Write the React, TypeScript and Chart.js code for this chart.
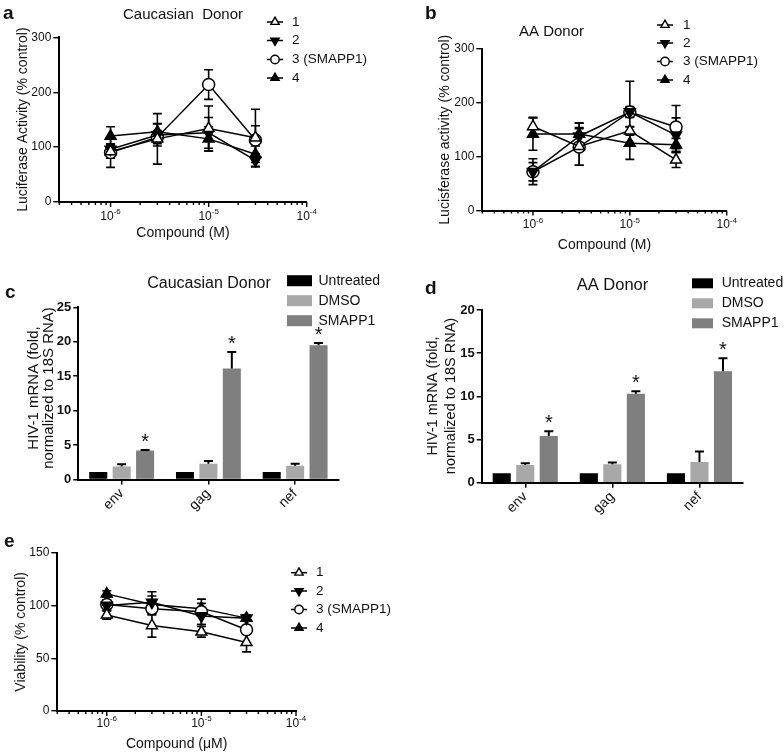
import React, { useEffect, useRef } from 'react';
import { Chart, registerables } from 'chart.js';

Chart.register(...registerables);

const PAGE_W = 784;
const PAGE_H = 752;
const FONT = 'Arial, "Liberation Sans", Helvetica, sans-serif';
const INK = '#111';

// ---------- shared dose axis ----------
const doses = [1e-6, 3e-6, 1e-5, 3e-5];
const compoundNames = ['1', '2', '3 (SMAPP1)', '4'];
const doseMin = 3e-7;
const doseMax = 1e-4;

// ---------- panel a: Caucasian donor, luciferase ----------
const caucLuc1 = [92, 115, 134, 117];
const caucLuc1Err = [12, 46, 41, 52];
const caucLuc2 = [96, 122, 126, 76];
const caucLuc2Err = [10, 20, 28, 12];
const caucLuc3 = [90, 118, 214, 113];
const caucLuc3Err = [27, 12, 27, 26];
const caucLuc4 = [120, 128, 115, 87];
const caucLuc4Err = [17, 15, 22, 15];

// ---------- panel b: AA donor, luciferase ----------
const aaLuc1 = [156, 119, 148, 94];
const aaLuc1Err = [17, 35, 8, 14];
const aaLuc2 = [72, 138, 183, 140];
const aaLuc2Err = [17, 25, 10, 32];
const aaLuc3 = [72, 118, 183, 155];
const aaLuc3Err = [24, 34, 57, 40];
const aaLuc4 = [142, 142, 125, 122];
const aaLuc4Err = [30, 20, 30, 12];

// ---------- panel e: viability ----------
const via1 = [91, 81, 75, 65];
const via1Err = [4, 11, 5, 9];
const via2 = [100, 103, 90, 88];
const via2Err = [5, 10, 8, 3];
const via3 = [101, 97, 94, 77];
const via3Err = [4, 6, 12, 4];
const via4 = [111, 101, 97, 88];
const via4Err = [3, 8, 5, 3];

// ---------- panels c, d: HIV-1 mRNA ----------
const genes = ['env', 'gag', 'nef'];
const treatments = ['Untreated', 'DMSO', 'SMAPP1'];
const caucUntreated = [1.1, 1.1, 1.1];
const caucUntreatedErr = [0, 0, 0];
const caucDMSO = [1.9, 2.3, 2.0];
const caucDMSOErr = [0.3, 0.4, 0.3];
const caucSMAPP1 = [4.2, 16.1, 19.5];
const caucSMAPP1Err = [0.1, 2.4, 0.3];
const aaUntreated = [1.1, 1.1, 1.1];
const aaUntreatedErr = [0, 0, 0];
const aaDMSO = [2.05, 2.15, 2.4];
const aaDMSOErr = [0.2, 0.2, 1.2];
const aaSMAPP1 = [5.4, 10.3, 12.9];
const aaSMAPP1Err = [0.55, 0.3, 1.5];
const smapp1Significant = [true, true, true];

// ---------- styles ----------
const markers = [
  { style: 'triangle', rotation: 0, fill: '#fff' },
  { style: 'triangle', rotation: 180, fill: '#000' },
  { style: 'circle', rotation: 0, fill: '#fff' },
  { style: 'triangle', rotation: 0, fill: '#000' },
];
const barColors = ['#000000', '#a8a8a8', '#7f7f7f'];

function drawMarker(ctx: CanvasRenderingContext2D, m: any, x: number, y: number, r: number) {
  ctx.beginPath();
  if (m.style === 'circle') {
    ctx.arc(x, y, r, 0, Math.PI * 2);
  } else {
    let rad = (m.rotation * Math.PI) / 180;
    for (let k = 0; k < 3; k++) {
      const px = x + Math.sin(rad) * r;
      const py = y - Math.cos(rad) * r;
      if (k === 0) ctx.moveTo(px, py);
      else ctx.lineTo(px, py);
      rad += (2 * Math.PI) / 3;
    }
    ctx.closePath();
  }
  ctx.fillStyle = m.fill;
  ctx.fill();
  ctx.lineWidth = 1.4;
  ctx.strokeStyle = '#000';
  ctx.stroke();
}

function text(ctx: CanvasRenderingContext2D, s: string, x: number, y: number, font: string, align: CanvasTextAlign = 'left', baseline: CanvasTextBaseline = 'alphabetic') {
  ctx.font = font;
  ctx.fillStyle = INK;
  ctx.textAlign = align;
  ctx.textBaseline = baseline;
  ctx.fillText(s, x, y);
}

function vtext(ctx: CanvasRenderingContext2D, s: string, x: number, y: number, font: string) {
  ctx.save();
  ctx.translate(x, y);
  ctx.rotate(-Math.PI / 2);
  text(ctx, s, 0, 0, font, 'center', 'middle');
  ctx.restore();
}

const XH = 40;
const YW = 40;

function padFor(area: any) {
  return { left: area.l - YW, top: area.t, right: PAGE_W - area.r, bottom: PAGE_H - area.b - XH };
}

// ---------- line panels ----------
const linePanels = [
  {
    key: 'a', letter: 'a', letterX: 3, letterY: 18.5,
    title: 'Caucasian  Donor', titleX: 183, titleY: 18.5, titleSize: 15,
    area: { l: 59.3, t: 37.3, r: 306.7, b: 202 }, yMax: 300, yStep: 100,
    yTitle: 'Luciferase Activity (% control)', yTitleX: 22.7,
    xTitle: 'Compound (M)', xTitleY: 233, decadeDY: 17.5,
    legendX: 275, legendTextX: 292, legendRows: [22, 40.5, 59.5, 78],
    series: [caucLuc1, caucLuc2, caucLuc3, caucLuc4],
    errors: [caucLuc1Err, caucLuc2Err, caucLuc3Err, caucLuc4Err],
  },
  {
    key: 'b', letter: 'b', letterX: 425, letterY: 18.5,
    title: 'AA Donor', titleX: 551.5, titleY: 36, titleSize: 15,
    area: { l: 482.3, t: 49, r: 726.7, b: 210.5 }, yMax: 300, yStep: 100,
    yTitle: 'Lucisferase activity (% control)', yTitleX: 445,
    xTitle: 'Compound (M)', xTitleY: 245, decadeDY: 17.5,
    legendX: 665, legendTextX: 683, legendRows: [25, 43, 61.5, 80],
    series: [aaLuc1, aaLuc2, aaLuc3, aaLuc4],
    errors: [aaLuc1Err, aaLuc2Err, aaLuc3Err, aaLuc4Err],
  },
  {
    key: 'e', letter: 'e', letterX: 4, letterY: 546.5,
    title: '', titleX: 0, titleY: 0, titleSize: 15,
    area: { l: 57.3, t: 552.7, r: 296, b: 711 }, yMax: 150, yStep: 50,
    yTitle: 'Viability (% control)', yTitleX: 21,
    xTitle: 'Compound (\u03bcM)', xTitleY: 744, decadeDY: 15.5,
    legendX: 299, legendTextX: 316, legendRows: [572.7, 591, 609.5, 628],
    series: [via1, via2, via3, via4],
    errors: [via1Err, via2Err, via3Err, via4Err],
  },
];

function lineConfig(p: any): any {
  const datasets = p.series.map((vals: number[], i: number) => ({
    label: compoundNames[i],
    data: doses.map((d, j) => ({ x: d, y: vals[j] })),
    borderColor: '#000',
    borderWidth: 1.5,
    pointStyle: markers[i].style,
    pointRotation: markers[i].rotation,
    pointRadius: markers[i].style === 'circle' ? 6 : 6.3,
    pointBackgroundColor: markers[i].fill,
    pointBorderColor: '#000',
    pointBorderWidth: 1.5,
    tension: 0,
  }));

  const deco = {
    id: 'deco_' + p.key,
    beforeDatasetsDraw(chart: any) {
      const ctx = chart.ctx as CanvasRenderingContext2D;
      const xs = chart.scales.x, ys = chart.scales.y;
      ctx.save();
      ctx.strokeStyle = '#000';
      ctx.lineWidth = 1.6;
      p.series.forEach((vals: number[], i: number) => {
        vals.forEach((v, j) => {
          const e = p.errors[i][j];
          const x = xs.getPixelForValue(doses[j]);
          const y1 = ys.getPixelForValue(v + e);
          const y2 = ys.getPixelForValue(Math.max(0, v - e));
          ctx.beginPath();
          ctx.moveTo(x, y1); ctx.lineTo(x, y2);
          ctx.moveTo(x - 4.5, y1); ctx.lineTo(x + 4.5, y1);
          ctx.moveTo(x - 4.5, y2); ctx.lineTo(x + 4.5, y2);
          ctx.stroke();
        });
      });
      ctx.restore();
    },
    afterDraw(chart: any) {
      const ctx = chart.ctx as CanvasRenderingContext2D;
      const xs = chart.scales.x;
      const area = chart.chartArea;
      ctx.save();
      ctx.strokeStyle = '#000';
      ctx.lineWidth = 1.4;
      const e0 = Math.floor(Math.log10(doseMin) + 1e-9);
      const e1 = Math.ceil(Math.log10(doseMax) - 1e-9);
      for (let ex = e0; ex <= e1; ex++) {
        for (let m = 1; m <= 9; m++) {
          const v = m * Math.pow(10, ex);
          if (v < doseMin * 0.999 || v > doseMax * 1.001) continue;
          const x = xs.getPixelForValue(v);
          const len = m === 1 ? 5 : 3;
          ctx.beginPath();
          ctx.moveTo(x, area.bottom);
          ctx.lineTo(x, area.bottom + len);
          ctx.stroke();
          if (m === 1) {
            const base = '10';
            const sup = String(ex);
            ctx.font = `12px ${FONT}`;
            const wb = ctx.measureText(base).width;
            ctx.font = `8px ${FONT}`;
            const ws = ctx.measureText(sup).width;
            const x0 = x - (wb + ws) / 2;
            const by = area.bottom + p.decadeDY;
            text(ctx, base, x0, by, `12px ${FONT}`);
            text(ctx, sup, x0 + wb, by - 5.5, `8px ${FONT}`);
          }
        }
      }
      vtext(ctx, p.yTitle, p.yTitleX, (area.top + area.bottom) / 2, `14px ${FONT}`);
      text(ctx, p.xTitle, (area.left + area.right) / 2, p.xTitleY, `14px ${FONT}`, 'center', 'middle');
      if (p.title) text(ctx, p.title, p.titleX, p.titleY, `${p.titleSize}px ${FONT}`, 'center');
      text(ctx, p.letter, p.letterX, p.letterY, `bold 19px ${FONT}`);
      p.legendRows.forEach((ry: number, i: number) => {
        ctx.strokeStyle = '#000';
        ctx.lineWidth = 1.5;
        ctx.beginPath();
        ctx.moveTo(p.legendX - 8, ry);
        ctx.lineTo(p.legendX + 8, ry);
        ctx.stroke();
        drawMarker(ctx, markers[i], p.legendX, ry, markers[i].style === 'circle' ? 4.2 : 4.8);
        text(ctx, compoundNames[i], p.legendTextX, ry, `13.5px ${FONT}`, 'left', 'middle');
      });
      ctx.restore();
    },
  };

  return {
    type: 'line',
    data: { datasets },
    options: {
      responsive: false,
      animation: false,
      events: [],
      layout: { padding: padFor(p.area) },
      plugins: { legend: { display: false }, tooltip: { enabled: false }, title: { display: false } },
      scales: {
        x: {
          type: 'logarithmic',
          min: doseMin,
          max: doseMax,
          grid: { display: false, drawTicks: false },
          border: { display: true, color: '#000', width: 2 },
          ticks: { display: false },
          afterFit: (s: any) => { s.height = XH; },
        },
        y: {
          type: 'linear',
          min: 0,
          max: p.yMax,
          ticks: { stepSize: p.yStep, color: INK, font: { family: FONT, size: 12 }, padding: 2 },
          grid: { display: true, drawOnChartArea: false, drawTicks: true, tickLength: 6, color: '#000', lineWidth: 1.4 },
          border: { display: true, color: '#000', width: 2 },
          afterFit: (s: any) => { s.width = YW; },
        },
      },
    },
    plugins: [deco],
  };
}

// ---------- bar panels ----------
const barPanels = [
  {
    key: 'c', letter: 'c', letterX: 5, letterY: 297.5,
    title: 'Caucasian Donor', titleX: 209, titleY: 287.5, titleSize: 16,
    area: { l: 78.3, t: 307.3, r: 338.5, b: 479.5 }, yMax: 25,
    yTitleLines: ['HIV-1 mRNA (fold,', 'normalized to 18S RNA)'], yTitleX: [33.5, 48.5], yTitleY: 388, yTitleSize: 15,
    legendBoxX: 287, legendBoxW: 25, legendBoxH: 11, legendTextX: 318.5, legendRows: [280.7, 300.7, 320.7],
    values: [caucUntreated, caucDMSO, caucSMAPP1],
    errors: [caucUntreatedErr, caucDMSOErr, caucSMAPP1Err],
  },
  {
    key: 'd', letter: 'd', letterX: 425, letterY: 293.5,
    title: 'AA Donor', titleX: 612.5, titleY: 289.5, titleSize: 16.5,
    area: { l: 481.7, t: 310, r: 743, b: 482.7 }, yMax: 20,
    yTitleLines: ['HIV-1 mRNA (fold,', 'normalized to 18S RNA)'], yTitleX: [433, 451], yTitleY: 396, yTitleSize: 14.5,
    legendBoxX: 692, legendBoxW: 21, legendBoxH: 10, legendTextX: 721.7, legendRows: [283.3, 303.3, 323.3],
    values: [aaUntreated, aaDMSO, aaSMAPP1],
    errors: [aaUntreatedErr, aaDMSOErr, aaSMAPP1Err],
  },
];

function barConfig(p: any): any {
  const datasets = treatments.map((t, i) => ({
    label: t,
    data: p.values[i],
    backgroundColor: barColors[i],
    borderWidth: 0,
    categoryPercentage: 0.81,
    barPercentage: 0.77,
  }));

  const deco = {
    id: 'deco_' + p.key,
    afterDatasetsDraw(chart: any) {
      const ctx = chart.ctx as CanvasRenderingContext2D;
      const ys = chart.scales.y;
      ctx.save();
      ctx.strokeStyle = '#000';
      ctx.lineWidth = 2;
      treatments.forEach((_, i) => {
        const meta = chart.getDatasetMeta(i);
        p.values[i].forEach((v: number, j: number) => {
          const e = p.errors[i][j];
          const bar = meta.data[j];
          const x = bar.x;
          const yTop = ys.getPixelForValue(v + e);
          if (e > 0) {
            const y0 = ys.getPixelForValue(v);
            ctx.beginPath();
            ctx.moveTo(x, y0); ctx.lineTo(x, yTop);
            ctx.moveTo(x - 4.5, yTop); ctx.lineTo(x + 4.5, yTop);
            ctx.stroke();
          }
          if (i === 2 && smapp1Significant[j]) {
            text(ctx, '*', x, yTop - 13 + 11, `20px ${FONT}`, 'center', 'alphabetic');
          }
        });
      });
      ctx.restore();
    },
    afterDraw(chart: any) {
      const ctx = chart.ctx as CanvasRenderingContext2D;
      ctx.save();
      p.yTitleLines.forEach((line: string, k: number) => {
        vtext(ctx, line, p.yTitleX[k], p.yTitleY, `${p.yTitleSize}px ${FONT}`);
      });
      text(ctx, p.title, p.titleX, p.titleY, `${p.titleSize}px ${FONT}`, 'center');
      text(ctx, p.letter, p.letterX, p.letterY, `bold 19px ${FONT}`);
      p.legendRows.forEach((ry: number, i: number) => {
        ctx.fillStyle = barColors[i];
        ctx.fillRect(p.legendBoxX, ry - p.legendBoxH / 2, p.legendBoxW, p.legendBoxH);
        text(ctx, treatments[i], p.legendTextX, ry, `14px ${FONT}`, 'left', 'middle');
      });
      ctx.restore();
    },
  };

  return {
    type: 'bar',
    data: { labels: genes, datasets },
    options: {
      responsive: false,
      animation: false,
      events: [],
      layout: { padding: padFor(p.area) },
      plugins: { legend: { display: false }, tooltip: { enabled: false }, title: { display: false } },
      scales: {
        x: {
          type: 'category',
          grid: { display: true, drawOnChartArea: false, offset: false, drawTicks: true, tickLength: 5, color: '#000', lineWidth: 1.5 },
          border: { display: true, color: '#000', width: 2 },
          ticks: { minRotation: 45, maxRotation: 45, color: INK, font: { family: FONT, size: 14 }, padding: 1 },
          afterFit: (s: any) => { s.height = XH; },
        },
        y: {
          type: 'linear',
          min: 0,
          max: p.yMax,
          ticks: { stepSize: 5, color: INK, font: { family: FONT, size: 13, weight: 'bold' }, padding: 2 },
          grid: { display: true, drawOnChartArea: false, drawTicks: true, tickLength: 5, color: '#000', lineWidth: 1.5 },
          border: { display: true, color: '#000', width: 2 },
          afterFit: (s: any) => { s.width = YW; },
        },
      },
    },
    plugins: [deco],
  };
}

function PanelCanvas({ make }: { make: () => any }) {
  const ref = useRef<HTMLCanvasElement | null>(null);
  useEffect(() => {
    if (!ref.current) return;
    const chart = new Chart(ref.current, make());
    return () => chart.destroy();
  }, []);
  return (
    <canvas
      ref={ref}
      width={PAGE_W}
      height={PAGE_H}
      style={{ position: 'absolute', left: 0, top: 0, width: PAGE_W, height: PAGE_H }}
    />
  );
}

export default function App() {
  Chart.defaults.font.family = FONT;
  return (
    <div style={{ position: 'absolute', left: 0, top: 0, width: PAGE_W, height: PAGE_H, background: '#fff', overflow: 'hidden' }}>
      {linePanels.map((p) => (
        <PanelCanvas key={p.key} make={() => lineConfig(p)} />
      ))}
      {barPanels.map((p) => (
        <PanelCanvas key={p.key} make={() => barConfig(p)} />
      ))}
    </div>
  );
}
